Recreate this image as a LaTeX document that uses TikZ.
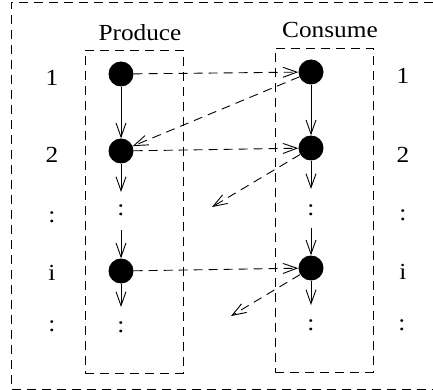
\documentclass[tikz,border=0pt]{standalone}
\usepackage{fontspec}
\setmainfont{Liberation Serif}[FakeStretch=1.1]
\usetikzlibrary{arrows.meta}
\begin{document}
\begin{tikzpicture}[x=1pt,y=-1pt,
  dot/.style={circle,fill=black,inner sep=0pt,minimum size=25pt},
  lbl/.style={font=\fontsize{23}{23}\selectfont,inner sep=0pt},
  dsh/.style={dash pattern=on 9pt off 6pt,line width=0.9pt},
  tip/.style={-{Straight Barb[length=14pt,width=10pt,line width=0.9pt]}},
  flow/.style={tip,line width=0.9pt},
  msg/.style={tip,dsh}]
\useasboundingbox (0,0) rectangle (433,390);
% outer frame
\coordinate (o1) at (433,2);
\coordinate (o2) at (11,2);
\coordinate (o3) at (11,389);
\coordinate (o4) at (433,389);
\draw[dsh] (o1) -- (o2) -- (o3) -- (o4);
% group boxes
\node[draw,dsh,minimum width=98pt,minimum height=323pt,inner sep=0pt] (pbox) at (134,211.5) {};
\node[draw,dsh,minimum width=98pt,minimum height=324pt,inner sep=0pt] (cbox) at (324,210) {};
\node[lbl] (ptitle) at (140,33) {Produce};
\node[lbl] (ctitle) at (330,30) {Consume};
% row labels
\node[lbl] (l1) at (52,78) {1};
\node[lbl] (l2) at (52,155) {2};
\node[lbl] (l3) at (52,217) {:};
\node[lbl] (l4) at (52,273) {i};
\node[lbl] (l5) at (52,326) {:};
\node[lbl] (r1) at (403,76) {1};
\node[lbl] (r2) at (403,155) {2};
\node[lbl] (r3) at (403,215) {:};
\node[lbl] (r4) at (403,272) {i};
\node[lbl] (r5) at (402,325) {:};
% nodes
\node[dot] (p1) at (121,74) {};
\node[dot] (p2) at (121,151) {};
\node[dot] (pi) at (121,271) {};
\node[dot] (c1) at (311,72) {};
\node[dot] (c2) at (311,148) {};
\node[dot] (ci) at (311,268) {};
\node[lbl] (pd1) at (121,210) {:};
\node[lbl] (pd2) at (121,327) {:};
\node[lbl] (cd1) at (311,210) {:};
\node[lbl] (cd2) at (311,325) {:};
% free ends
\coordinate (pa) at (121,192);
\coordinate (pb) at (121,230);
\coordinate (pc) at (121,307);
\coordinate (ca) at (311,189);
\coordinate (cb) at (311,228);
\coordinate (cc) at (311,305);
\coordinate (m1) at (212,207);
\coordinate (m2) at (231,316);
% solid flow arrows
\draw[flow] (p1) -- (p2);
\draw[flow] (p2) -- (pa);
\draw[flow] (pb) -- (pi);
\draw[flow] (pi) -- (pc);
\draw[flow] (c1) -- (c2);
\draw[flow] (c2) -- (ca);
\draw[flow] (cb) -- (ci);
\draw[flow] (ci) -- (cc);
% dashed messages
\draw[msg] (p1) -- (c1);
\draw[msg] (c1) -- (p2);
\draw[msg] (p2) -- (c2);
\draw[msg] (c2) -- (m1);
\draw[msg] (pi) -- (ci);
\draw[msg] (ci) -- (m2);
\end{tikzpicture}
\end{document}
